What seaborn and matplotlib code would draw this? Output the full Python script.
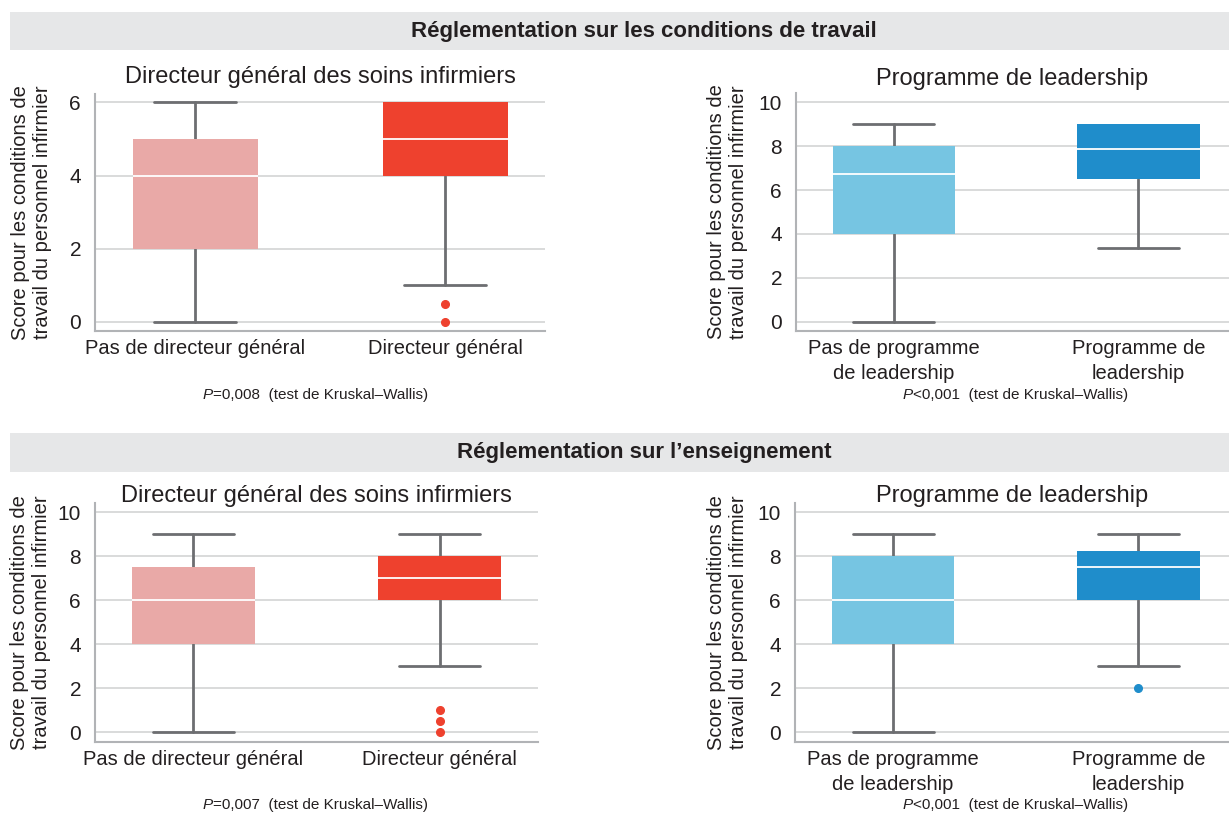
import matplotlib
matplotlib.use("Agg")
import matplotlib.pyplot as plt
from matplotlib import font_manager
from matplotlib.patches import Rectangle
import seaborn as sns

W, H = 1229, 813

sns.set_theme(style="whitegrid")
_names = {f.name for f in font_manager.fontManager.ttflist}
FONT = "Liberation Sans Narrow" if "Liberation Sans Narrow" in _names else "Liberation Sans"
plt.rcParams["font.family"] = [FONT, "DejaVu Sans"]

TEXT = "#231f20"
WHISKER = "#6d6e71"
GRID = "#d9dadb"
SPINE = "#b1b3b6"
BAND = "#e6e7e8"

# ---- data -------------------------------------------------------------
section_titles = ["Réglementation sur les conditions de travail",
                  "Réglementation sur l\u2019enseignement"]
panel_titles = ["Directeur général des soins infirmiers", "Programme de leadership"]
director_groups = ["Pas de directeur général", "Directeur général"]
leadership_groups = ["Pas de programme\nde leadership", "Programme de\nleadership"]
y_label = "Score pour les conditions de\ntravail du personnel infirmier"
p_values = ["=0,008", "<0,001", "=0,007", "<0,001"]

# working-conditions regulation, nursing director
wd_low = [0, 1]
wd_q1 = [2, 4]
wd_med = [4, 5]
wd_q3 = [5, 6]
wd_high = [6, 6]
wd_out = [[], [0.5, 0]]

# working-conditions regulation, leadership programme
wl_low = [0, 3.35]
wl_q1 = [4, 6.5]
wl_med = [6.75, 7.85]
wl_q3 = [8, 9]
wl_high = [9, 9]
wl_out = [[], []]

# education regulation, nursing director
ed_low = [0, 3]
ed_q1 = [4, 6]
ed_med = [6, 7]
ed_q3 = [7.5, 8]
ed_high = [9, 9]
ed_out = [[], [1, 0.5, 0]]

# education regulation, leadership programme
el_low = [0, 3]
el_q1 = [4, 6]
el_med = [6, 7.5]
el_q3 = [8, 8.25]
el_high = [9, 9]
el_out = [[], [2]]

director_colors = ["#e9a9a7", "#ee412e"]
leadership_colors = ["#76c5e2", "#1f8dcb"]

# ---- figure -------------------------------------------------------------
fig = plt.figure(figsize=(W / 100, H / 100), dpi=100)
fig.patch.set_facecolor("white")


def px_axes(left, top, right, bottom):
    return fig.add_axes([left / W, 1 - bottom / H, (right - left) / W, (bottom - top) / H])


def band(top, bottom, title):
    fig.add_artist(Rectangle((10 / W, 1 - bottom / H), (W - 10) / W, (bottom - top) / H,
                             transform=fig.transFigure, color=BAND, lw=0, zorder=0))
    fig.text(644 / W, 1 - (top + bottom) / 2 / H, title, ha="center", va="center",
             fontsize=16, fontweight="bold", color=TEXT)


def panel(ax, low, q1, med, q3, high, out, colors, labels, title, ymax, ylim, xmax, title_pad):
    stats = []
    for i in range(len(labels)):
        stats.append(dict(whislo=low[i], q1=q1[i], med=med[i], q3=q3[i], whishi=high[i],
                          fliers=out[i], label=labels[i]))
    parts = ax.bxp(stats, positions=[0, 1], widths=0.5, capwidths=0.33, patch_artist=True,
                   showfliers=True,
                   boxprops=dict(linewidth=0),
                   whiskerprops=dict(color=WHISKER, linewidth=2.0),
                   capprops=dict(color=WHISKER, linewidth=2.0),
                   medianprops=dict(color="white", linewidth=1.3),
                   manage_ticks=False)
    for box, c in zip(parts["boxes"], colors):
        box.set_facecolor(c)
        box.set_edgecolor(c)
        box.set_zorder(3)
    for med_line in parts["medians"]:
        med_line.set_zorder(4)
    for fl, c in zip(parts["fliers"], colors):
        fl.set(marker="o", markerfacecolor=c, markeredgecolor=c, markersize=5.5, zorder=4)
    for art in parts["whiskers"] + parts["caps"]:
        art.set_zorder(2)
    # a whisker that ends at the box edge has nothing to show
    for i in range(len(labels)):
        for k, (end, edge) in enumerate(((low[i], q1[i]), (high[i], q3[i]))):
            if end == edge:
                parts["whiskers"][2 * i + k].set_visible(False)
                parts["caps"][2 * i + k].set_visible(False)

    ax.set_xlim(-0.4, xmax)
    ax.set_ylim(*ylim)
    ax.set_yticks(range(0, ymax + 1, 2))
    ax.set_xticks([0, 1])
    ax.set_xticklabels(labels, linespacing=1.35)
    ax.set_facecolor("white")
    ax.grid(axis="y", color=GRID, linewidth=1.4)
    ax.grid(axis="x", visible=False)
    ax.tick_params(axis="y", length=0, pad=10, labelsize=15, labelcolor=TEXT)
    ax.tick_params(axis="x", length=0, pad=6, labelsize=14.5, labelcolor=TEXT)
    sns.despine(ax=ax, top=True, right=True)
    for s in ("left", "bottom"):
        ax.spines[s].set_color(SPINE)
        ax.spines[s].set_linewidth(1.5)
    ax.set_title(title, fontsize=17, color=TEXT, pad=title_pad)


def footnote(ax, x, y, tail):
    t = fig.text(x / W, 1 - y / H, "P", style="italic", fontsize=11, color=TEXT,
                 ha="left", va="center")
    ax.annotate(tail + "  (test de Kruskal\u2013Wallis)", xy=(1, 0.5), xycoords=t,
                ha="left", va="center", fontsize=11, color=TEXT, annotation_clip=False)


def ylabel(x, top, bottom):
    fig.text(x / W, 1 - (top + bottom) / 2 / H, y_label, rotation=90, ha="center",
             va="center", fontsize=14.5, color=TEXT, multialignment="center",
             linespacing=1.2)


band(12, 50, section_titles[0])
band(433, 472, section_titles[1])

ax1 = px_axes(95, 94, 545, 331)
panel(ax1, wd_low, wd_q1, wd_med, wd_q3, wd_high, wd_out, director_colors, director_groups,
      panel_titles[0], 6, (-0.25, 6.23), 1.4, 8)
ax2 = px_axes(796, 93, 1229, 331)
panel(ax2, wl_low, wl_q1, wl_med, wl_q3, wl_high, wl_out, leadership_colors, leadership_groups,
      panel_titles[1], 10, (-0.42, 10.42), 1.37, 6)
ax3 = px_axes(95, 503, 538, 742)
panel(ax3, ed_low, ed_q1, ed_med, ed_q3, ed_high, ed_out, director_colors, director_groups,
      panel_titles[0], 10, (-0.44, 10.42), 1.4, 1)
ax4 = px_axes(795, 503, 1229, 742)
panel(ax4, el_low, el_q1, el_med, el_q3, el_high, el_out, leadership_colors, leadership_groups,
      panel_titles[1], 10, (-0.44, 10.42), 1.37, 1)

ylabel(32, 94, 331)
ylabel(728, 93, 331)
ylabel(31, 503, 742)
ylabel(728, 503, 742)

footnote(ax1, 203, 395, p_values[0])
footnote(ax2, 903, 395, p_values[1])
footnote(ax3, 203, 805, p_values[2])
footnote(ax4, 903, 805, p_values[3])

fig.savefig("out.png", dpi=100, facecolor="white")
